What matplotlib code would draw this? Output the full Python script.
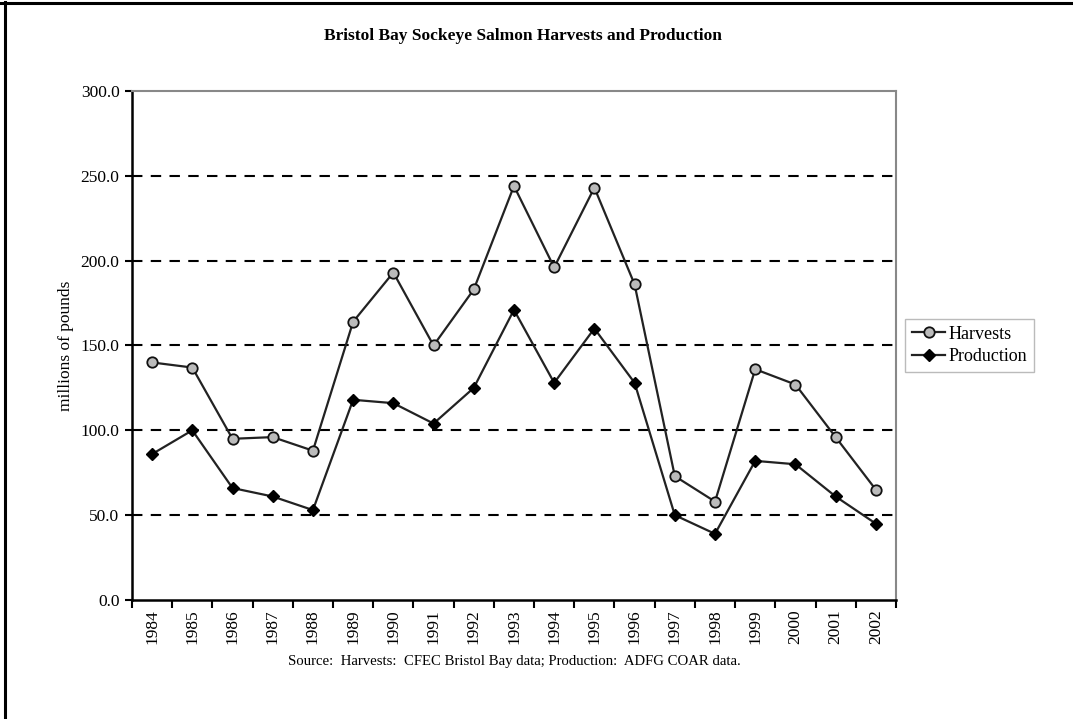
import matplotlib
matplotlib.use("Agg")
import matplotlib.pyplot as plt
from matplotlib.lines import Line2D

years = [str(y) for y in range(1984, 2003)]
harvests = [140, 137, 95, 96, 88, 164, 193, 150, 183, 244, 196, 243, 186, 73, 58, 136, 127, 96, 65]
production = [86, 100, 66, 61, 53, 118, 116, 104, 125, 171, 128, 160, 128, 50, 39, 82, 80, 61, 45]
yticks = [0, 50, 100, 150, 200, 250, 300]

plt.rcParams['font.family'] = ['Liberation Serif', 'DejaVu Serif']

fig = plt.figure(figsize=(10.73, 7.19), dpi=100)
# page border: top and left edges only
fig.lines.append(Line2D([0, 1], [1 - 3 / 719, 1 - 3 / 719], transform=fig.transFigure,
                        color='black', lw=2.2))
fig.lines.append(Line2D([5 / 1073, 5 / 1073], [0, 1 - 2 / 719], transform=fig.transFigure,
                        color='black', lw=2.2))

ax = fig.add_axes([0.1230, 0.1655, 0.7120, 0.7080])
x = list(range(len(years)))
ax.plot(x, harvests, color='#222222', lw=1.6, marker='o', ms=7.5, mfc='#bbbbbb',
        mec='#111111', mew=1.3, label='Harvests')
ax.plot(x, production, color='#222222', lw=1.6, marker='D', ms=6, mfc='black',
        mec='black', label='Production')

ax.set_xlim(-0.5, len(years) - 0.5)
ax.set_ylim(0, 300)
ax.set_yticks(yticks)
ax.set_yticklabels([f"{v:.1f}" for v in yticks], fontsize=12.5)
for v in yticks[1:-1]:
    ax.axhline(v, color='black', lw=1.5, ls=(0, (5, 4)), zorder=0)

ax.set_xticks([i - 0.5 for i in range(len(years) + 1)])
ax.set_xticklabels([])
ax.set_xticks(x, minor=True)
ax.set_xticklabels(years, minor=True, rotation=90, fontsize=12.5)
ax.tick_params(axis='x', which='major', direction='out', length=6, width=1.5)
ax.tick_params(axis='x', which='minor', length=0, pad=7)
ax.tick_params(axis='y', direction='out', length=5, width=1.5, pad=4)

ax.spines['left'].set_linewidth(1.8)
ax.spines['bottom'].set_linewidth(1.8)
ax.spines['top'].set_color('#888888')
ax.spines['right'].set_color('#888888')
ax.spines['top'].set_linewidth(1.5)
ax.spines['right'].set_linewidth(1.5)

ax.set_ylabel('millions of pounds', fontsize=12.5, labelpad=5)

leg = ax.legend(loc='center left', bbox_to_anchor=(1.012, 0.5), fontsize=13,
                frameon=True, fancybox=False, edgecolor='#aaaaaa',
                handlelength=1.8, handletextpad=0.2, borderpad=0.4, labelspacing=0.3,
                borderaxespad=0.0)
leg.get_frame().set_linewidth(1.0)

fig.text(0.487, 0.950, 'Bristol Bay Sockeye Salmon Harvests and Production',
         ha='center', va='center', fontsize=12.5, fontweight='bold')
fig.text(0.479, 0.080, 'Source:  Harvests:  CFEC Bristol Bay data; Production:  ADFG COAR data.',
         ha='center', va='center', fontsize=10.6)

fig.savefig('out.png', dpi=100)
